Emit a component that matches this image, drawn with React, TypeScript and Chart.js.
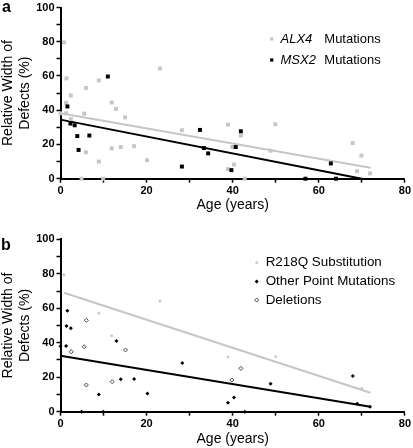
import React, { useEffect, useRef } from 'react';
import { Chart, registerables } from 'chart.js';

Chart.register(...registerables);

const FONT = "'Liberation Sans', Arial, Helvetica, sans-serif";
const GRAY = '#c6c6c6';
const BLACK = '#000000';

// ---------- shared axes ----------
const xMin = 0;
const xMax = 80;
const yMin = 0;
const yMax = 100;
const xLabel = 'Age (years)';
const yLabel = ['Relative Width of', 'Defects (%)'];

// ---------- panel a ----------
const alx4Age = [0.8, 1.4, 1.3, 2.4, 0, 1.3, 2.4, 5.5, 5.9, 5.9, 4.9, 8.9, 8.9, 9.9, 11.9, 11.9, 12.9, 14, 15, 17.1, 20.1, 23.1, 28.2, 38.9, 41.9, 39.9, 40.3, 38.9, 42.8, 49.9, 48.8, 67.9, 69.9, 68.9, 71.9];
const alx4Width = [79.6, 58.6, 44.3, 48.6, 38.2, 38.2, 34.9, 38, 53, 15.4, 0, 57.4, 10, 0, 44.5, 17.7, 40.8, 18.5, 35.8, 19, 10.8, 64.4, 28.3, 31.6, 25.2, 18.5, 8.3, 5.6, 0, 31.8, 16.4, 20.8, 13.5, 4.4, 3.1];
const msx2Age = [1.6, 2.3, 3.3, 3.9, 4.2, 6.7, 11, 28.2, 32.4, 33.3, 34.3, 41.9, 40.7, 39.7, 62.8, 56.9, 64];
const msx2Width = [42.2, 32.2, 31.2, 24.9, 16.8, 25.2, 59.7, 7.1, 28.5, 17.9, 14.8, 27.7, 18.5, 5, 8.9, 0, 0];
const alx4FitAge = [0, 72];
const alx4FitWidth = [38.2, 6.4];
const msx2FitAge = [0, 70];
const msx2FitWidth = [34.5, 0];

// ---------- panel b ----------
const r218qAge = [0.8, 8.9, 11.9, 23.1, 38.9, 50, 70];
const r218qWidth = [79.3, 57.1, 44, 64.2, 31.7, 31.9, 13.5];
const otherAge = [0, 1.3, 1.4, 1.6, 2.4, 8.9, 13, 14, 17.1, 20.2, 28.3, 38.9, 40.3, 48.8, 67.9, 68.9, 71.9, 4.9, 9.9, 42.8];
const otherWidth = [38, 38.1, 49.7, 58.6, 48.4, 10, 41, 18.8, 19, 10.6, 28.2, 5.2, 8.3, 16.2, 20.7, 4.6, 2.9, 0, 0, 0];
const deletionAge = [6, 5.5, 2.5, 6, 12, 15.1, 41.9, 39.8];
const deletionWidth = [53, 37.7, 34.8, 15.5, 17.4, 35.8, 25.1, 18.4];
const r218qFitAge = [0.8, 72];
const r218qFitWidth = [69, 11];
const otherFitAge = [0, 72];
const otherFitWidth = [32.5, 2.9];

const pts = (xs: number[], ys: number[]) => xs.map((x, i) => ({ x, y: ys[i] }));

type LegendItem = { italic?: string; text: string; marker: string };

function drawMarker(ctx: CanvasRenderingContext2D, kind: string, x: number, y: number) {
  ctx.save();
  if (kind === 'graySquare' || kind === 'blackSquare') {
    ctx.fillStyle = kind === 'graySquare' ? GRAY : BLACK;
    ctx.fillRect(x - 1.6, y - 1.6, 3.2, 3.2);
  } else if (kind === 'grayDot') {
    ctx.fillStyle = GRAY;
    ctx.beginPath();
    ctx.arc(x, y, 1.4, 0, Math.PI * 2);
    ctx.fill();
  } else {
    ctx.beginPath();
    ctx.moveTo(x - 2, y);
    ctx.lineTo(x, y - 2);
    ctx.lineTo(x + 2, y);
    ctx.lineTo(x, y + 2);
    ctx.closePath();
    if (kind === 'blackDiamond') {
      ctx.fillStyle = BLACK;
      ctx.fill();
    } else {
      ctx.fillStyle = '#fff';
      ctx.fill();
      ctx.strokeStyle = '#333';
      ctx.lineWidth = 0.9;
      ctx.stroke();
    }
  }
  ctx.restore();
}

const decorPlugin = {
  id: 'panelDecor',
  afterDraw(chart: any, _args: any, opts: any) {
    const ctx: CanvasRenderingContext2D = chart.ctx;
    ctx.save();
    ctx.fillStyle = '#000';
    ctx.textBaseline = 'alphabetic';
    ctx.textAlign = 'left';
    ctx.font = `bold 16px ${FONT}`;
    ctx.fillText(opts.letter, opts.letterX, opts.letterY);
    (opts.items as LegendItem[]).forEach((it, i) => {
      const y = opts.y + i * opts.gap;
      drawMarker(ctx, it.marker, opts.markerX, y);
      ctx.fillStyle = '#000';
      ctx.textBaseline = 'middle';
      if (it.italic) {
        ctx.font = `italic 13px ${FONT}`;
        ctx.fillText(it.italic, opts.textX, y);
        ctx.font = `13px ${FONT}`;
        ctx.fillText(it.text, opts.restX, y);
      } else {
        ctx.font = `13.4px ${FONT}`;
        ctx.fillText(it.text, opts.textX, y);
      }
    });
    ctx.restore();
  },
};

function makeScales(xHeight: number, xTitleBottom: number) {
  const tickFont = { family: FONT, size: 11, weight: 'bold' as const };
  return {
    x: {
      type: 'linear' as const,
      min: xMin,
      max: xMax,
      ticks: {
        stepSize: 10,
        autoSkip: false,
        maxRotation: 0,
        padding: 2,
        color: '#000',
        font: tickFont,
        callback: (v: any) => (Number(v) % 20 === 0 ? String(v) : ''),
      },
      grid: {
        display: true,
        drawOnChartArea: false,
        drawTicks: true,
        tickLength: 4,
        tickWidth: 1.5,
        tickColor: '#000',
      },
      border: { display: true, color: '#000', width: 2 },
      title: {
        display: true,
        text: xLabel,
        color: '#000',
        font: { family: FONT, size: 14, lineHeight: 1.2 },
        padding: { top: 0, bottom: xTitleBottom },
      },
      afterFit: (s: any) => {
        s.height = xHeight;
      },
    },
    y: {
      type: 'linear' as const,
      min: yMin,
      max: yMax,
      ticks: {
        stepSize: 10,
        autoSkip: false,
        padding: 2,
        color: '#000',
        font: { ...tickFont, lineHeight: 1.0 },
        callback: (v: any) => (Number(v) % 20 === 0 ? String(v) : ''),
      },
      grid: {
        display: true,
        drawOnChartArea: false,
        drawTicks: true,
        tickLength: 4,
        tickWidth: 1.5,
        tickColor: '#000',
      },
      border: { display: true, color: '#000', width: 2 },
      title: {
        display: true,
        text: yLabel,
        color: '#000',
        font: { family: FONT, size: 14, lineHeight: 1.2 },
        padding: { top: 0, bottom: 0 },
      },
      afterFit: (s: any) => {
        s.width = 60.5;
      },
    },
  };
}

function scatterSet(label: string, xs: number[], ys: number[], style: string, radius: number, color: string, order: number, border?: string) {
  return {
    label,
    data: pts(xs, ys),
    showLine: false,
    pointStyle: style,
    pointRadius: radius,
    pointHoverRadius: radius,
    pointBackgroundColor: color,
    pointBorderColor: border || color,
    pointBorderWidth: border ? 0.9 : 0,
    clip: false,
    order,
  };
}

function fitSet(label: string, xs: number[], ys: number[], color: string, width: number, order: number) {
  return {
    label,
    data: pts(xs, ys),
    showLine: true,
    borderColor: color,
    borderWidth: width,
    pointRadius: 0,
    pointHoverRadius: 0,
    fill: false,
    clip: false,
    order,
  };
}

function PanelA() {
  const ref = useRef<HTMLCanvasElement>(null);
  useEffect(() => {
    const chart = new Chart(ref.current!, {
      type: 'scatter',
      data: {
        datasets: [
          scatterSet('MSX2 Mutations', msx2Age, msx2Width, 'rect', 2.8, BLACK, 1),
          scatterSet('ALX4 Mutations', alx4Age, alx4Width, 'rect', 2.8, GRAY, 2),
          fitSet('MSX2 fit', msx2FitAge, msx2FitWidth, BLACK, 2, 3),
          fitSet('ALX4 fit', alx4FitAge, alx4FitWidth, GRAY, 2, 4),
        ] as any,
      },
      options: {
        responsive: false,
        animation: false,
        events: [],
        layout: { padding: { top: 5.7, right: 8, bottom: 0, left: 0 } },
        scales: makeScales(43.3, 8) as any,
        plugins: {
          legend: { display: false },
          tooltip: { enabled: false },
          panelDecor: {
            letter: 'a',
            letterX: 2,
            letterY: 12,
            markerX: 271.7,
            textX: 280.5,
            restX: 324.3,
            y: 39,
            gap: 21,
            items: [
              { italic: 'ALX4', text: 'Mutations', marker: 'graySquare' },
              { italic: 'MSX2', text: 'Mutations', marker: 'blackSquare' },
            ],
          },
        } as any,
      },
      plugins: [decorPlugin],
    });
    return () => chart.destroy();
  }, []);
  return <canvas ref={ref} width={413} height={222} style={{ display: 'block' }} />;
}

function PanelB() {
  const ref = useRef<HTMLCanvasElement>(null);
  useEffect(() => {
    const chart = new Chart(ref.current!, {
      type: 'scatter',
      data: {
        datasets: [
          scatterSet('R218Q Substitution', r218qAge, r218qWidth, 'circle', 1.4, GRAY, 1),
          scatterSet('Other Point Mutations', otherAge, otherWidth, 'rectRot', 2, BLACK, 2),
          scatterSet('Deletions', deletionAge, deletionWidth, 'rectRot', 2, '#ffffff', 3, '#333333'),
          fitSet('Other fit', otherFitAge, otherFitWidth, BLACK, 2, 4),
          fitSet('R218Q fit', r218qFitAge, r218qFitWidth, GRAY, 2, 5),
        ] as any,
      },
      options: {
        responsive: false,
        animation: false,
        events: [],
        layout: { padding: { top: 17.3, right: 8, bottom: 0, left: 0 } },
        scales: makeScales(36.3, 0) as any,
        plugins: {
          legend: { display: false },
          tooltip: { enabled: false },
          panelDecor: {
            letter: 'b',
            letterX: 1,
            letterY: 28,
            markerX: 256.7,
            textX: 265.7,
            restX: 0,
            y: 40.7,
            gap: 18.7,
            items: [
              { text: 'R218Q Substitution', marker: 'grayDot' },
              { text: 'Other Point Mutations', marker: 'blackDiamond' },
              { text: 'Deletions', marker: 'openDiamond' },
            ],
          },
        } as any,
      },
      plugins: [decorPlugin],
    });
    return () => chart.destroy();
  }, []);
  return <canvas ref={ref} width={413} height={226} style={{ display: 'block' }} />;
}

export default function App() {
  return (
    <div style={{ position: 'absolute', left: 0, top: 0, width: 413, height: 448, background: '#fff' }}>
      <PanelA />
      <PanelB />
    </div>
  );
}
